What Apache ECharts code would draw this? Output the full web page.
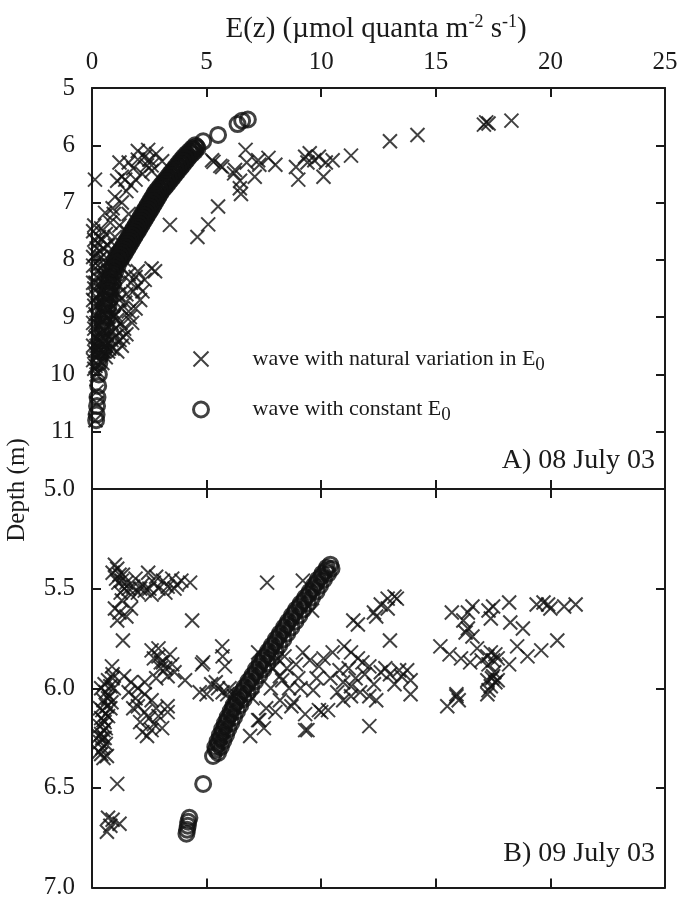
<!DOCTYPE html>
<html><head><meta charset="utf-8">
<script src="https://cdn.jsdelivr.net/npm/echarts@6/dist/echarts.min.js"></script>
<style>html,body{margin:0;padding:0;background:#fff}#c{width:682px;height:900px}</style>
</head><body><div id="c"></div>
<script>
// ---------- DATA ----------
var xTicks = [0, 5, 10, 15, 20, 25];
var depthTicksA = [5, 6, 7, 8, 9, 10, 11];
var depthTicksB = [5.0, 5.5, 6.0, 6.5, 7.0];

// Panel A (08 July 03): wave with natural variation in E0  [E, depth]
var crossA = [
 [18.3,5.57],[17.3,5.62],[17.1,5.64],[17.2,5.6],[14.2,5.82],[13.0,5.93],
 [11.3,6.18],[10.5,6.26],[10.2,6.3],[10.1,6.55],[9.9,6.2],[9.7,6.26],[9.5,6.14],[9.4,6.3],[9.3,6.2],[9.0,6.6],[8.9,6.38],
 [8.0,6.34],[7.7,6.22],[7.3,6.34],[7.25,6.26],[7.1,6.55],[6.7,6.08],[6.75,6.3],[6.5,6.85],[6.46,6.62],[6.45,6.75],
 [6.24,6.43],[6.2,6.49],[5.68,6.38],[5.6,6.36],[5.3,6.29],[5.24,6.26],[5.5,7.07],[5.07,7.38],[4.6,7.6],[3.4,7.39],
 [0.13,6.6],[2.0,6.1],[2.3,6.2],[2.6,6.35],[2.8,6.15],[3.06,6.28],[2.45,6.08],[1.6,6.3],[1.8,6.4],[1.3,6.55],[1.1,6.62],
 [1.7,6.7],[1.5,6.8],[2.2,6.5],[2.6,6.45],[1.0,6.9],[1.3,7.0],[0.9,7.1],[0.57,7.18],[1.6,7.2],[0.8,7.35],[1.2,7.4],
 [0.4,7.45],[0.3,7.6],[0.6,7.55],[1.0,7.6],[0.2,7.8],[0.5,7.8],[0.8,7.9],
 [0.1,7.4],[0.15,7.9],[0.3,8.0],[0.05,8.1],[0.4,8.15],[0.7,8.2],[0.2,8.3],[1.0,8.3],[0.5,8.4],[0.1,8.5],[0.8,8.5],
 [1.2,8.45],[0.3,8.6],[0.6,8.7],[1.5,8.6],[0.1,8.8],[0.9,8.8],[1.3,8.85],[0.4,8.9],[0.2,9.0],[0.7,9.0],[1.1,9.05],
 [0.1,9.2],[0.5,9.2],[0.9,9.25],[1.4,9.2],[0.3,9.4],[0.7,9.45],[1.2,9.4],[0.1,9.6],[0.5,9.6],[0.9,9.55],[0.3,9.75],
 [0.15,9.85],[0.6,9.7],
 [2.75,8.2],[2.6,8.15],[2.3,8.35],[2.0,8.45],[1.8,8.55],[2.1,8.7],[1.9,8.85],[1.6,8.9],[1.75,9.1],[1.5,9.3],[1.3,9.5],
 [1.1,9.6],[1.4,8.0],[1.6,8.25],[1.2,7.9],[1.9,8.3],
 [0.2,10.0],[0.2,10.3],[0.2,10.5],[0.15,10.8],
 [0.05,7.5],[0.25,7.7],[0.45,7.65],[0.7,7.75],[0.05,7.95],[0.35,7.85],[0.6,8.05],[0.9,8.1],[0.2,8.2],[0.45,8.25],
 [0.75,8.35],[0.05,8.4],[0.35,8.45],[1.0,8.55],[0.2,8.65],[0.5,8.55],[0.8,8.65],[1.2,8.7],[0.05,8.7],[0.35,8.75],
 [0.65,8.85],[1.0,8.95],[0.15,8.95],[0.45,9.05],[0.85,9.1],[1.25,9.1],[0.05,9.1],[0.3,9.15],[0.65,9.3],[1.0,9.35],
 [0.15,9.35],[0.45,9.45],[0.85,9.4],[0.05,9.5],[0.3,9.55],[0.7,9.6],[0.2,9.65],[0.45,9.8],[0.05,9.75],[0.25,9.95],
 [1.7,8.4],[2.2,8.55],[1.45,8.75],[1.65,9.0],[1.35,9.35],[2.0,8.2],[1.3,8.15],[1.0,7.75],[1.5,7.5],[0.95,7.2],
 [2.0,6.25],[2.5,6.25],[1.9,6.6],[2.4,6.35],[1.2,6.3],[1.45,6.6],
 [0.1,7.65],[0.4,7.95],[0.25,8.1],[0.55,8.3],[0.15,8.4],[0.4,8.6],[0.25,8.8],[0.55,8.95],[0.2,9.1],[0.4,9.3],
 [0.2,9.5],[0.6,9.5],[0.35,9.65],[0.1,9.9],[1.1,8.2],[1.15,8.6],[0.95,9.0],[1.05,9.2],[0.75,9.55]
];
// Panel A: wave with constant E0  [E, depth]
var circleA = [
 [6.8,5.55],[6.55,5.57],[6.35,5.63],[5.5,5.82],[4.85,5.93],
 [4.5,6.00],[4.38,6.05],[4.25,6.10],[4.12,6.15],[4.0,6.20],[3.9,6.25],[3.8,6.30],[3.7,6.35],[3.6,6.40],[3.5,6.45],
 [3.4,6.50],[3.3,6.55],[3.2,6.60],[3.1,6.65],[3.0,6.70],[2.9,6.75],[2.8,6.80],[2.72,6.85],[2.65,6.90],[2.57,6.95],
 [2.5,7.00],[2.42,7.05],[2.35,7.10],[2.27,7.15],[2.2,7.20],[2.12,7.25],[2.05,7.30],[1.97,7.35],[1.9,7.40],[1.82,7.45],
 [1.75,7.50],[1.67,7.55],[1.6,7.60],[1.52,7.65],[1.45,7.70],[1.37,7.75],[1.3,7.80],[1.22,7.85],[1.15,7.90],[1.07,7.95],
 [1.0,8.00],[0.9,8.10],[0.82,8.20],[0.75,8.30],[0.7,8.40],[0.66,8.50],[0.62,8.60],[0.58,8.70],[0.55,8.80],[0.52,8.90],
 [0.5,9.00],[0.47,9.10],[0.45,9.20],[0.42,9.30],[0.4,9.40],[0.38,9.50],[0.36,9.60],[0.34,9.70],[0.32,9.80],
 [0.3,10.0],[0.27,10.2],[0.24,10.4],[0.22,10.55],[0.2,10.7],[0.18,10.8],
 [4.6,6.05],[4.5,6.10],[4.37,6.15],[4.25,6.20],[4.15,6.25],[4.05,6.30],[3.95,6.35],[3.85,6.40],[3.75,6.45],[3.65,6.50],
 [3.55,6.55],[3.45,6.60],[3.35,6.65],[3.25,6.70],[3.15,6.75],[3.05,6.80],[2.97,6.85],[2.9,6.90],[2.82,6.95],[2.75,7.00],
 [2.67,7.05],[2.6,7.10],[2.52,7.15],[2.45,7.20],[2.37,7.25],[2.3,7.30],[2.22,7.35],[2.15,7.40],[2.07,7.45],[2.0,7.50],
 [1.92,7.55],[1.85,7.60],[1.77,7.65],[1.7,7.70],[1.62,7.75],[1.55,7.80],[1.47,7.85],[1.4,7.90],[1.32,7.95],[1.25,8.00],
 [1.12,8.10],[1.02,8.20],[0.95,8.30],[0.9,8.40],[0.85,8.50],[0.8,8.60],[0.76,8.70],[0.72,8.80],[0.68,8.90],[0.65,9.00],
 [0.6,9.20],[0.55,9.40],[0.5,9.60],
 [4.56,6.025],[4.44,6.075],[4.3,6.125],[4.18,6.175],[4.07,6.225],[3.97,6.275],[3.87,6.325],[3.77,6.375],[3.67,6.425],
 [3.57,6.475],[3.47,6.525],[3.37,6.575],[3.27,6.625],[3.17,6.675],[3.07,6.725],[2.97,6.775],[2.88,6.825],[2.8,6.875],
 [2.73,6.925],[2.65,6.975],[2.58,7.025],[2.5,7.075],[2.43,7.125],[2.35,7.175],[2.28,7.225],[2.2,7.275],[2.13,7.325],
 [2.05,7.375],[1.98,7.425],[1.9,7.475],[1.83,7.525],[1.75,7.575],[1.68,7.625],[1.6,7.675],[1.53,7.725],[1.45,7.775],
 [1.38,7.825],[1.3,7.875],[1.23,7.925],[1.15,7.975],[1.05,8.05],[0.95,8.15],[0.87,8.25],[0.8,8.35],[0.76,8.45],[0.72,8.55]
];

// Panel B (09 July 03): wave with natural variation in E0  [E, depth]
var crossB = [
 [1.0,5.38],[1.1,5.40],[1.2,5.43],[1.05,5.45],[1.3,5.46],[1.5,5.47],[1.6,5.5],[1.25,5.52],[1.8,5.49],[2.0,5.52],[2.2,5.48],
 [2.45,5.42],[2.5,5.5],[2.7,5.47],[2.9,5.5],[3.1,5.46],[3.3,5.49],[3.5,5.45],[3.7,5.48],[3.9,5.46],[4.28,5.47],[2.3,5.51],
 [2.8,5.44],[1.4,5.5],[1.0,5.6],[1.2,5.62],[1.5,5.64],[1.1,5.66],[1.7,5.6],[4.37,5.66],[1.35,5.76],
 [7.64,5.47],[9.2,5.46],[9.6,5.61],
 [0.87,5.89],[0.9,5.93],[0.7,5.96],[0.8,5.99],[0.6,6.02],[0.75,6.04],[0.5,6.06],[0.65,6.09],[0.45,6.11],[0.6,6.13],
 [0.4,6.15],[0.55,6.17],[0.35,6.19],[0.5,6.21],[0.4,6.23],[0.55,6.25],[0.35,6.27],[0.45,6.3],[0.65,6.34],[0.3,6.32],
 [0.95,6.0],[0.85,6.07],[0.7,6.14],[0.6,6.2],
 [1.1,6.48],[0.7,6.65],[0.9,6.66],[0.8,6.69],[1.2,6.68],[0.65,6.72],
 [2.6,5.81],[2.9,5.84],[3.1,5.87],[3.4,5.83],[3.0,5.9],[3.6,5.92],[4.06,5.96],[3.3,5.94],[2.8,5.95],[4.8,5.88],[5.68,5.79],
 [5.8,5.89],[5.2,5.98],[5.5,6.0],[5.7,6.02],[6.2,6.04],[5.0,6.03],[5.9,6.03],[4.85,5.87],[5.7,5.84],[3.0,5.87],
 [1.4,5.94],[1.7,5.97],[2.0,6.0],[2.3,6.03],[2.6,6.06],[1.9,6.05],
 [2.0,6.09],[2.3,6.12],[2.5,6.15],[2.7,6.18],[3.06,6.2],[2.2,6.22],[1.8,6.1],[2.4,6.24],[3.3,6.12],[3.3,6.09],
 [7.25,5.82],[8.4,5.84],[8.5,5.9],[8.3,5.96],[9.2,5.82],[9.5,5.86],[9.9,5.89],[10.5,5.82],[7.25,6.16],[9.3,6.21],
 [8.7,6.09],[9.9,6.11],[7.3,6.16],[6.9,6.24],[8.2,5.94],[8.2,6.06],[8.8,6.07],[9.4,6.21],[9.65,6.01],[10.3,6.11],
 [10.96,5.97],[10.96,6.06],[7.0,6.05],[7.8,6.0],[8.6,6.0],[9.0,5.95],[7.6,6.1],
 [13.2,5.54],[12.6,5.58],[11.4,5.66],[11.6,5.68],[12.3,5.62],[12.4,5.64],[13.0,5.76],[13.3,5.55],
 [15.7,5.62],[16.6,5.59],[17.5,5.59],[18.2,5.57],[19.7,5.57],[19.9,5.58],[21.1,5.58],[20.6,5.59],[16.2,5.66],[16.4,5.7],
 [16.6,5.74],[16.3,5.72],[17.4,5.65],[18.25,5.67],[18.8,5.7],[20.3,5.76],
 [15.2,5.79],[15.6,5.83],[16.1,5.85],[17.25,5.84],[17.5,5.86],[17.7,5.85],[17.4,5.82],[18.55,5.79],[19.0,5.84],[19.6,5.81],
 [17.5,5.94],[17.6,5.97],[17.25,5.96],[17.4,5.99],[15.9,6.03],[17.25,6.03],[17.7,5.96],[16.0,6.06],
 [11.0,5.79],[11.3,5.82],[11.6,5.85],[11.8,5.87],[10.8,5.91],[12.1,5.89],[12.6,5.92],[13.0,5.93],[13.4,5.91],[13.75,5.91],
 [13.9,5.96],[13.9,6.03],[11.3,5.99],[11.7,6.02],[12.1,6.04],[12.4,6.06],[11.3,6.04],[12.1,6.19],[15.5,6.09],[15.9,6.04],
 [17.3,6.01],[10.0,6.12],[11.5,5.95],[12.8,5.9],
 [0.4,6.0],[0.55,5.98],[0.8,6.1],[0.5,6.16],[0.45,6.25],[0.35,6.1],[0.9,5.95],[0.3,6.24],[0.6,6.28],[0.4,6.33],[0.7,6.05],[0.5,6.35],
 [1.15,5.47],[1.35,5.43],[1.7,5.53],[1.9,5.45],[2.1,5.5],[2.6,5.53],[3.2,5.52],[3.6,5.5],[1.3,5.56],[0.9,5.42],
 [2.7,5.85],[2.9,5.8],[3.2,5.9],[3.5,5.88],[2.3,5.97],[1.6,6.02],[2.8,6.1],[2.1,6.17],[2.6,6.21],[2.9,6.14],[5.4,5.97],[6.0,6.0],[4.7,6.02],
 [7.9,5.9],[8.1,5.85],[8.9,5.88],[9.1,6.0],[9.8,5.95],[10.1,5.85],[10.4,5.95],[10.7,6.02],[9.3,6.13],[8.0,6.12],[7.5,6.2],
 [11.2,5.9],[11.9,5.93],[12.3,5.98],[13.2,5.98],[13.5,5.94],[12.9,5.55],[12.9,5.6],[16.4,5.62],[17.3,5.61],[17.0,5.86],
 [17.3,5.88],[17.6,5.83],[17.45,5.95],[17.55,5.92],[16.8,5.8],[16.5,5.87],[18.2,5.88],[19.4,5.58],[20.0,5.6]
];
// Panel B: wave with constant E0  [E, depth]
var circleB = [
 [10.4,5.38],[10.2,5.41],[10.0,5.44],[9.8,5.47],[9.65,5.50],[9.45,5.53],[9.25,5.56],[9.05,5.59],[8.85,5.62],[8.7,5.65],
 [8.5,5.68],[8.35,5.71],[8.15,5.74],[8.0,5.77],[7.8,5.80],[7.65,5.83],[7.45,5.86],[7.3,5.89],[7.15,5.92],[6.95,5.95],
 [6.8,5.98],[6.6,6.01],[6.45,6.04],[6.3,6.07],[6.15,6.10],[6.05,6.13],[5.9,6.16],[5.8,6.19],[5.7,6.22],[5.6,6.25],
 [5.5,6.28],[5.4,6.31],[5.28,6.34],
 [10.45,5.40],[10.3,5.425],[10.12,5.455],[9.95,5.485],[9.8,5.515],[9.6,5.545],[9.42,5.575],[9.22,5.605],[9.05,5.635],
 [8.88,5.665],[8.7,5.695],[8.52,5.725],[8.35,5.755],[8.17,5.785],[8.0,5.815],[7.82,5.845],[7.65,5.875],[7.48,5.905],
 [7.3,5.935],[7.12,5.965],[6.95,5.995],[6.78,6.025],[6.62,6.055],[6.47,6.085],[6.33,6.115],[6.2,6.145],[6.08,6.175],
 [5.95,6.205],[5.85,6.235],[5.73,6.265],[5.62,6.295],[5.5,6.325],
 [10.25,5.395],[10.05,5.425],[9.85,5.455],[9.68,5.485],[9.5,5.515],[9.3,5.545],[9.1,5.575],[8.9,5.605],[8.72,5.635],
 [8.55,5.665],[8.38,5.695],[8.2,5.725],[8.02,5.755],[7.85,5.785],[7.68,5.815],[7.5,5.845],[7.32,5.875],[7.15,5.905],
 [7.0,5.935],[6.82,5.965],[6.65,5.995],[6.48,6.025],[6.32,6.055],[6.18,6.085],[6.05,6.115],[5.92,6.145],[5.8,6.175],
 [5.68,6.205],[5.58,6.235],[5.48,6.265],[5.38,6.295],
 [4.85,6.48],[4.25,6.65],[4.2,6.67],[4.18,6.69],[4.15,6.71],[4.12,6.73]
];

var seriesNames = ['natural', 'constant'];
var panelLabels = ['A) 08 July 03', 'B) 09 July 03'];

// ---------- CHART ----------
var FONT = '"Liberation Serif", "DejaVu Serif", serif';
var INK = '#1a1a1a';
var MARK = '#111';
var chart = echarts.init(document.getElementById('c'), null, {renderer: 'canvas'});
var L = 92, R = 17, TA = 88, HA = 401, TB = 489, HB = 399;
var crossPath = 'path://M0,0L10,10M10,0L0,10';

function xAx(grid, pos, labels) {
  return {
    type: 'value', gridIndex: grid, position: pos, min: 0, max: 25, interval: 5,
    axisLine: {show: true, onZero: false, lineStyle: {color: INK, width: 2}},
    axisTick: {show: true, inside: true, length: 9, lineStyle: {color: INK, width: 2}},
    axisLabel: {show: labels, margin: 13, fontFamily: FONT, fontSize: 25, color: INK},
    splitLine: {show: false}
  };
}
function yAx(grid, pos, min, max, interval, labels, fmt) {
  return {
    type: 'value', gridIndex: grid, position: pos, inverse: true, min: min, max: max, interval: interval,
    axisLine: {show: true, onZero: false, lineStyle: {color: INK, width: 2}},
    axisTick: {show: true, inside: true, length: 9, lineStyle: {color: INK, width: 2}},
    axisLabel: {show: labels, margin: 17, fontFamily: FONT, fontSize: 25, color: INK, formatter: fmt},
    splitLine: {show: false}
  };
}
var crossStyle = {color: 'transparent', borderColor: MARK, borderWidth: 2};
var circStyle = {color: 'transparent', borderColor: MARK, borderWidth: 3};

var option = {
  animation: false,
  backgroundColor: '#fff',
  grid: [
    {left: L, right: R, top: TA, height: HA},
    {left: L, right: R, top: TB, height: HB}
  ],
  xAxis: [xAx(0, 'top', true), xAx(0, 'bottom', false), xAx(1, 'top', false), xAx(1, 'bottom', false)],
  yAxis: [
    yAx(0, 'left', 5, 12, 1, true, function (v) { return depthTicksA.indexOf(v) >= 0 ? String(v) : ''; }),
    yAx(0, 'right', 5, 12, 1, false),
    yAx(1, 'left', 5, 7, 0.5, true, function (v) { return v.toFixed(1); }),
    yAx(1, 'right', 5, 7, 0.5, false)
  ],
  legend: {
    orient: 'vertical', left: 187, top: 343, itemGap: 24, itemWidth: 15, itemHeight: 15,
    data: [
      {name: seriesNames[0], icon: crossPath, itemStyle: crossStyle},
      {name: seriesNames[1], icon: 'circle', itemStyle: circStyle}
    ],
    formatter: function (n) {
      return n === seriesNames[0] ? '{t|wave with natural variation in E}{s|0}' : '{t|wave with constant E}{s|0}';
    },
    textStyle: {
      fontFamily: FONT, fontSize: 22, color: INK, padding: [0, 0, 0, 39],
      rich: {
        t: {fontFamily: FONT, fontSize: 22, color: INK},
        s: {fontFamily: FONT, fontSize: 19, color: INK, padding: [12, 0, 0, 0]}
      }
    }
  },
  series: [
    {name: seriesNames[0], type: 'scatter', xAxisIndex: 0, yAxisIndex: 0, data: crossA, symbol: crossPath, symbolSize: 14, itemStyle: crossStyle, silent: true},
    {name: seriesNames[1], type: 'scatter', xAxisIndex: 0, yAxisIndex: 0, data: circleA, symbol: 'circle', symbolSize: 15, itemStyle: circStyle, silent: true},
    {name: seriesNames[0], type: 'scatter', xAxisIndex: 2, yAxisIndex: 2, data: crossB, symbol: crossPath, symbolSize: 14, itemStyle: crossStyle, silent: true},
    {name: seriesNames[1], type: 'scatter', xAxisIndex: 2, yAxisIndex: 2, data: circleB, symbol: 'circle', symbolSize: 15, itemStyle: circStyle, silent: true}
  ],
  graphic: [
    {type: 'text', x: 376, y: 13, style: {
      text: '{a|E(z) (µmol quanta m}{s|-2}{a| s}{s|-1}{a|)}', textAlign: 'center',
      rich: {a: {fontFamily: FONT, fontSize: 29, fill: INK}, s: {fontFamily: FONT, fontSize: 18, fill: INK, padding: [0, 0, 14, 0]}}
    }},
    {type: 'text', x: 5, y: 490, rotation: Math.PI / 2, style: {
      text: 'Depth (m)', fontFamily: FONT, fontSize: 25, fill: INK, textAlign: 'center', textVerticalAlign: 'top'
    }},
    {type: 'text', right: 27, top: 447, style: {text: panelLabels[0], fontFamily: FONT, fontSize: 28, fill: INK}},
    {type: 'text', right: 27, top: 840, style: {text: panelLabels[1], fontFamily: FONT, fontSize: 28, fill: INK}}
  ]
};
chart.setOption(option);
</script>
</body></html>
